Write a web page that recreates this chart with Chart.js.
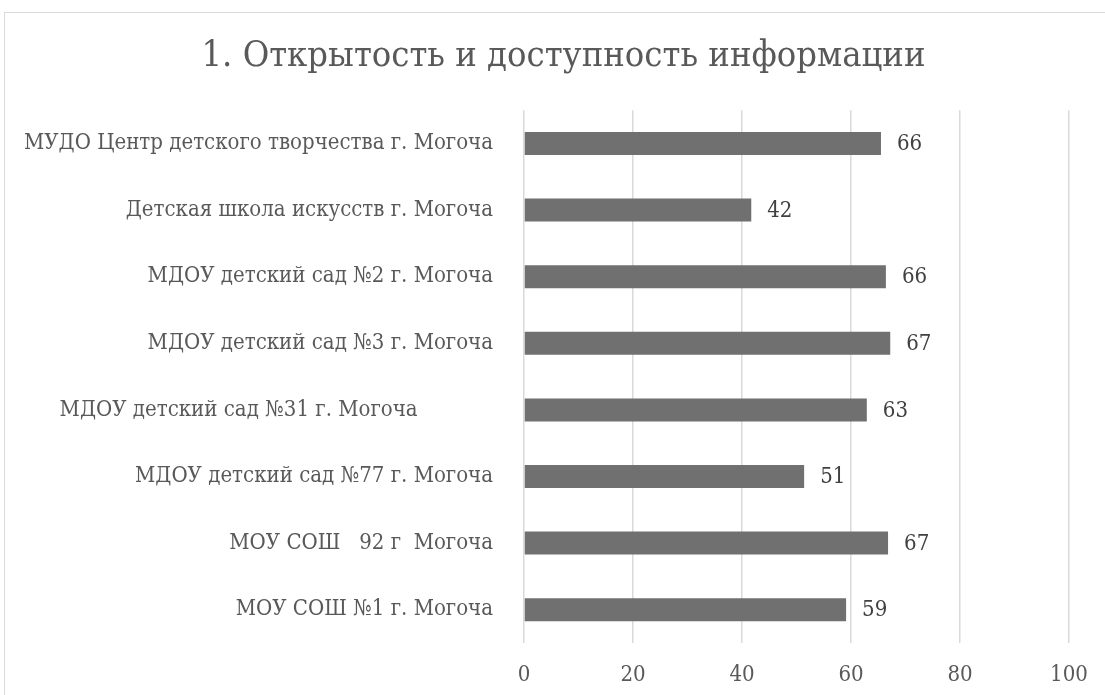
<!DOCTYPE html>
<html><head><meta charset="utf-8">
<script src="https://cdn.jsdelivr.net/npm/chart.js@4.4.1/dist/chart.umd.min.js"></script>
<style>
html,body{margin:0;padding:0;background:#fff;overflow:hidden;}
#wrap{position:relative;width:1105px;height:695px;overflow:hidden;}
#c{position:absolute;left:0;top:0;}
#frame{position:absolute;left:4px;top:12px;width:1300px;height:900px;border-top:1.5px solid #d9d9d9;border-left:1.5px solid #d9d9d9;pointer-events:none;}
</style></head><body>
<div id="wrap"><canvas id="c" width="1123" height="695" style="width:1123px;height:695px"></canvas><div id="frame"></div></div>
<script>
const titleText = '1. Открытость и доступность информации';
const categories = [
  'МУДО Центр детского творчества г. Могоча',
  'Детская школа искусств г. Могоча',
  'МДОУ детский сад №2 г. Могоча',
  'МДОУ детский сад №3 г. Могоча',
  'МДОУ детский сад №31 г. Могоча            ',
  'МДОУ детский сад №77 г. Могоча',
  'МОУ СОШ   92 г  Могоча',
  'МОУ СОШ №1 г. Могоча'
];
const values = [65.5, 41.7, 66.4, 67.2, 62.9, 51.4, 66.8, 59.1];
const xTicks = [0, 20, 40, 60, 80, 100];

const FONT = '"DejaVu Serif Condensed", "DejaVu Serif", serif';
const LABEL_SIZE = 22;
const TITLE_SIZE = 36;

const valueLabels = {
  id: 'valueLabels',
  afterDatasetsDraw(chart) {
    const ctx = chart.ctx;
    const meta = chart.getDatasetMeta(0);
    ctx.save();
    ctx.font = LABEL_SIZE + 'px ' + FONT;
    ctx.fillStyle = '#404040';
    ctx.textAlign = 'left';
    ctx.textBaseline = 'middle';
    meta.data.forEach((bar, i) => {
      ctx.fillText(String(Math.round(values[i])), bar.x + 16, bar.y + 1);
    });
    ctx.restore();
  }
};

new Chart(document.getElementById('c'), {
  type: 'bar',
  data: {
    labels: categories,
    datasets: [{
      data: values,
      backgroundColor: '#707070',
      borderWidth: 0,
      barPercentage: 0.345,
      categoryPercentage: 1.0
    }]
  },
  options: {
    indexAxis: 'y',
    responsive: false,
    animation: false,
    layout: { padding: { left: 4, right: 0, top: 16, bottom: 0 } },
    plugins: {
      legend: { display: false },
      tooltip: { enabled: false },
      title: {
        display: true,
        text: titleText,
        color: '#595959',
        font: { family: FONT, size: TITLE_SIZE, weight: 'normal' },
        padding: { top: 19, bottom: 32 }
      }
    },
    scales: {
      x: {
        min: 0, max: 100,
        afterBuildTicks: s => { s.ticks = xTicks.map(v => ({ value: v })); },
        afterFit: s => { s.height = 52; },
        grid: { color: '#d9d9d9', lineWidth: 1.5, drawTicks: false },
        border: { display: false },
        ticks: { color: '#595959', font: { family: FONT, size: LABEL_SIZE }, padding: 19, maxRotation: 0 }
      },
      y: {
        afterFit: s => { s.width = 520; },
        grid: { display: false, drawTicks: false },
        border: { display: false },
        ticks: { color: '#595959', font: { family: FONT, size: LABEL_SIZE }, padding: 31, autoSkip: false }
      },
      yRight: {
        type: 'linear',
        axis: 'y',
        position: 'right',
        afterFit: s => { s.width = 54; },
        grid: { display: false, drawTicks: false },
        border: { display: false },
        ticks: { display: false }
      }
    }
  },
  plugins: [valueLabels]
});
</script>
</body></html>
